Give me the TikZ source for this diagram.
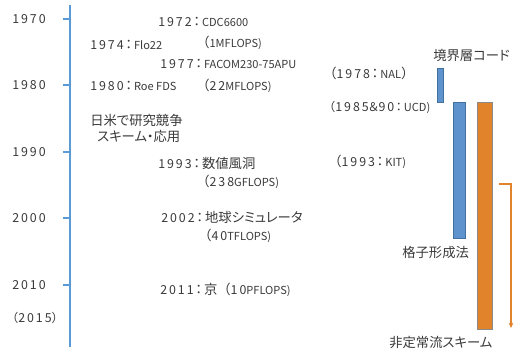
\documentclass[tikz,border=0pt]{standalone}
\usepackage{fontspec}
\usetikzlibrary{arrows.meta}
\setmainfont[RawFeature=+palt]{Noto Sans CJK JP}
\newfontfamily\yrf[LetterSpace=16]{Noto Sans CJK JP}
\newfontfamily\fwf{Noto Sans CJK JP}
\definecolor{tl}{HTML}{5B9BD5}
\definecolor{bluebar}{HTML}{5E93CE}
\definecolor{bluedge}{HTML}{41719C}
\definecolor{orbar}{HTML}{E0832A}
\definecolor{oredge}{HTML}{8A8A8A}
\definecolor{txt}{HTML}{3A3A3A}
\newcommand{\Y}[1]{{\yrf\fontsize{9.3pt}{11pt}\selectfont #1}}
\newcommand{\Lt}[1]{{\fontsize{8.3pt}{10pt}\selectfont #1}}
\newcommand{\Lp}{{\fwf （}}
\newcommand{\Cl}{\hspace{1.2pt}：\hspace{1.5pt}}
\begin{document}
\begin{tikzpicture}[x=0.75pt,y=-0.75pt,
  lbl/.style={anchor=west,inner sep=0pt,text=txt,font=\fontsize{10pt}{12pt}\selectfont},
  bluebox/.style={fill=bluebar,draw=bluedge,line width=0.6pt},
  orbox/.style={fill=orbar,draw=oredge,line width=0.6pt},
  tick/.style={draw=tl,line width=0.9pt}]
\useasboundingbox (0,0) rectangle (517,354);
% timeline
\coordinate (tltop) at (70,5);
\coordinate (tlbot) at (70,347);
\draw[tl,line width=1.1pt] (tltop) -- (tlbot);
% year axis labels and ticks
\node[lbl] (y1970) at (12,19) {\Y{1970}};
\node[lbl] (y1980) at (12,85) {\Y{1980}};
\node[lbl] (y1990) at (12,152) {\Y{1990}};
\node[lbl] (y2000) at (12,218) {\Y{2000}};
\node[lbl] (y2010) at (12,285) {\Y{2010}};
\node[lbl] (y2015) at (6,318) {{\fwf\fontsize{9pt}{11pt}\selectfont （}\Y{2015}{\fwf\fontsize{9pt}{11pt}\selectfont ）}};
\foreach \yy in {19,85,152,218,285}{\draw[tick] (63,\yy) -- (70,\yy);}
% events
\node[lbl] (e1972) at (158,22) {\Y{1972}\Cl\Lt{CDC6600}};
\node[lbl] (e1972b) at (196,43) {\Lp\Lt{1MFLOPS)}};
\node[lbl] (e1974) at (90,45) {\Y{1974}\Cl\Lt{Flo22}};
\node[lbl] (e1977) at (160,64) {\Y{1977}\Cl\Lt{FACOM230-75APU}};
\node[lbl] (e1977b) at (196,86) {\Lp\Y{22}\Lt{MFLOPS)}};
\node[lbl] (e1980) at (90,86) {\Y{1980}\Cl\Lt{Roe FDS}};
\node[lbl] (comp1) at (90,120) {日米で研究競争};
\node[lbl] (comp2) at (97,136) {スキーム・応用};
\node[lbl] (e1993) at (158,163) {\Y{1993}\Cl 数値風洞};
\node[lbl] (e1993b) at (196,182) {\Lp\Y{238}\Lt{GFLOPS)}};
\node[lbl] (e2002) at (161,217) {\Y{2002}\Cl 地球シミュレータ};
\node[lbl] (e2002b) at (198,236) {\Lp\Y{40}\Lt{TFLOPS)}};
\node[lbl] (e2011) at (160,290) {\Y{2011}\Cl 京\Lp\Y{10}\Lt{PFLOPS)}};
% right side
\node[lbl] (nal) at (323,73) {\Lp\Y{1978}\Cl\Lt{NAL}{\fwf ）}};
\node[lbl] (ucd) at (323,107) {\fontsize{9pt}{11pt}\selectfont\Lp\Y{1985}＆\Y{90}\Cl\Lt{UCD)}};
\node[lbl] (kit) at (328,162) {\Lp\Y{1993}\Cl\Lt{KIT)}};
\node[lbl] (bl) at (433,55) {境界層コード};
\node[lbl] (grid) at (402,252) {格子形成法};
\node[lbl] (uns) at (389,342) {非定常流スキーム};
% bars
\draw[bluebox] (437,68) rectangle (443,102);
\draw[bluebox] (453,102) rectangle (465,238);
\draw[orbox] (477,102) rectangle (492,329);
% arrow
\coordinate (arS) at (499,184);
\coordinate (arE) at (511,328);
\draw[orbar,line width=0.8pt,-{Stealth[length=4pt,width=3.5pt]}] (arS) -| (arE);
\end{tikzpicture}
\end{document}
